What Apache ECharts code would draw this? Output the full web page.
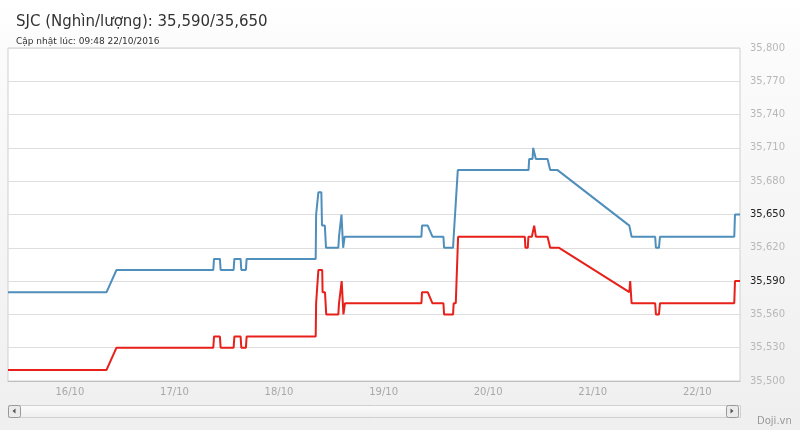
<!DOCTYPE html>
<html lang="vi">
<head>
    <meta charset="UTF-8">
    <title>SJC</title>
    <script src="https://cdn.jsdelivr.net/npm/echarts@6/dist/echarts.min.js"></script>
    <style>
        html, body { margin: 0; padding: 0; }
        #main { width: 800px; height: 430px; }
    </style>
</head>
<body>
<div id="main"></div>
<script>
    // gia ban (xanh)
    var sellTimes = ['10-15 09:48', '10-16 08:25', '10-16 10:42', '10-17 08:55', '10-17 09:05', '10-17 10:26',
        '10-17 10:36', '10-17 13:35', '10-17 13:45', '10-17 15:11', '10-17 15:21', '10-17 16:24', '10-17 16:34',
        '10-18 08:25', '10-18 08:31', '10-18 09:02', '10-18 09:43', '10-18 09:52', '10-18 10:31', '10-18 10:47',
        '10-18 13:37', '10-18 13:46', '10-18 14:20', '10-18 14:43', '10-18 15:04', '10-19 08:41', '10-19 08:49',
        '10-19 10:08', '10-19 11:13', '10-19 13:44', '10-19 13:53', '10-19 15:57', '10-19 16:05', '10-19 16:27',
        '10-19 17:02', '10-20 09:16', '10-20 09:25', '10-20 10:11', '10-20 10:20', '10-20 10:47', '10-20 10:57',
        '10-20 13:38', '10-20 14:14', '10-20 15:56', '10-21 08:24', '10-21 08:45', '10-21 08:55', '10-21 14:20',
        '10-21 14:30', '10-21 15:12', '10-21 15:26', '10-22 08:29', '10-22 08:39', '10-22 09:48'];
    var sellValues = [35580, 35580, 35600, 35600, 35610, 35610,
        35600, 35600, 35610, 35610, 35600, 35600, 35610,
        35610, 35650, 35670, 35670, 35640, 35640, 35620,
        35620, 35630, 35650, 35620, 35630, 35630, 35640,
        35640, 35630, 35630, 35620, 35620, 35630, 35630,
        35690, 35690, 35700, 35700, 35710, 35710, 35700,
        35700, 35690, 35690, 35640, 35640, 35630, 35630,
        35620, 35620, 35630, 35630, 35650, 35650];

    // gia mua (do)
    var buyTimes = ['10-15 09:48', '10-16 08:25', '10-16 10:42', '10-17 08:55', '10-17 09:05', '10-17 10:26',
        '10-17 10:36', '10-17 13:35', '10-17 13:45', '10-17 15:11', '10-17 15:21', '10-17 16:24', '10-17 16:34',
        '10-18 08:25', '10-18 08:31', '10-18 09:02', '10-18 09:55', '10-18 10:00', '10-18 10:33', '10-18 10:50',
        '10-18 13:37', '10-18 13:46', '10-18 14:23', '10-18 14:47', '10-18 15:08', '10-19 08:41', '10-19 08:49',
        '10-19 10:08', '10-19 11:13', '10-19 13:44', '10-19 13:53', '10-19 15:57', '10-19 16:05', '10-19 16:34',
        '10-19 17:06', '10-20 08:25', '10-20 08:33', '10-20 09:06', '10-20 09:14', '10-20 10:02', '10-20 10:34',
        '10-20 10:57', '10-20 13:38', '10-20 14:14', '10-20 16:17', '10-21 08:24', '10-21 08:36', '10-21 08:55',
        '10-21 14:20', '10-21 14:30', '10-21 15:12', '10-21 15:26', '10-22 08:29', '10-22 08:39', '10-22 09:48'];
    var buyValues = [35510, 35510, 35530, 35530, 35540, 35540,
        35530, 35530, 35540, 35540, 35530, 35530, 35540,
        35540, 35570, 35600, 35600, 35580, 35580, 35560,
        35560, 35570, 35590, 35560, 35570, 35570, 35580,
        35580, 35570, 35570, 35560, 35560, 35570, 35570,
        35630, 35630, 35620, 35620, 35630, 35630, 35640,
        35630, 35630, 35620, 35620, 35580, 35590, 35570,
        35570, 35560, 35560, 35570, 35570, 35590, 35590];

    var tickTimes = ['10-16 00:00', '10-17 00:00', '10-18 00:00', '10-19 00:00', '10-20 00:00', '10-21 00:00', '10-22 00:00'];
    var tickLabels = ['16/10', '17/10', '18/10', '19/10', '20/10', '21/10', '22/10'];

    var rangeStart = '10-15 09:48';
    var rangeEnd = '10-22 09:48';
    var updated = '09:48 22/10/2016';

    // '10-16 08:25' -> so phut tinh tu 15/10 00:00
    function t(s) {
        var p = s.split(/[- :]/);
        return ((+p[1] - 15) * 24 + (+p[2])) * 60 + (+p[3]);
    }
    function fmt(v) {
        return Number(v).toLocaleString('en-US');
    }
    function pairs(times, values) {
        return times.map(function (s, i) { return [t(s), values[i]]; });
    }

    var lastBuy = buyValues[buyValues.length - 1];
    var lastSell = sellValues[sellValues.length - 1];
    var tickStamps = tickTimes.map(t);
    var font = 'DejaVu Sans';

    var chart = echarts.init(document.getElementById('main'));
    chart.setOption({
        animation: false,
        backgroundColor: {
            type: 'linear', x: 0, y: 0, x2: 0, y2: 1,
            colorStops: [{offset: 0, color: '#ffffff'}, {offset: 0.12, color: '#fbfbfb'}, {offset: 1, color: '#efefef'}]
        },
        title: {
            text: 'SJC (Nghìn/lượng): ' + fmt(lastBuy) + '/' + fmt(lastSell),
            subtext: 'Cập nhật lúc: ' + updated,
            left: 11, top: 10, itemGap: 7,
            textStyle: {fontFamily: font, fontSize: 15, fontWeight: 'normal', color: '#333'},
            subtextStyle: {fontFamily: font, fontSize: 9, color: '#333'}
        },
        grid: {
            left: 8, right: 60, top: 48, bottom: 49,
            show: true, backgroundColor: '#fff', borderColor: '#cfcfcf', borderWidth: 1
        },
        xAxis: {
            type: 'value',
            min: t(rangeStart),
            max: t(rangeEnd),
            axisLine: {lineStyle: {color: '#c0c0c0', width: 1}},
            axisTick: {show: false, customValues: tickStamps},
            splitLine: {show: false},
            axisLabel: {
                customValues: tickStamps,
                margin: 6,
                fontFamily: font, fontSize: 10, color: '#a8a8a8',
                formatter: function (v) {
                    var i = tickStamps.indexOf(+v);
                    return i >= 0 ? tickLabels[i] : '';
                }
            }
        },
        yAxis: {
            type: 'value',
            position: 'right',
            min: 35500, max: 35800, interval: 30,
            axisLine: {show: false},
            axisTick: {show: false},
            splitLine: {lineStyle: {color: '#dedede', width: 1}},
            axisLabel: {
                margin: 10,
                fontFamily: font, fontSize: 10,
                formatter: function (v) { return fmt(v); },
                color: function (v) {
                    var n = Number(String(v).replace(/,/g, ''));
                    return (n === lastBuy || n === lastSell) ? '#222' : '#b8b8b8';
                }
            }
        },
        series: [
            {
                name: 'Bán', type: 'line', data: pairs(sellTimes, sellValues),
                showSymbol: false, lineStyle: {color: '#4f8fbb', width: 2}, itemStyle: {color: '#4f8fbb'}
            },
            {
                name: 'Mua', type: 'line', data: pairs(buyTimes, buyValues),
                showSymbol: false, lineStyle: {color: '#e8201a', width: 2}, itemStyle: {color: '#e8201a'}
            }
        ],
        graphic: [
            // thanh cuon
            {
                type: 'rect', left: 8, top: 405, shape: {width: 732, height: 12},
                style: {
                    fill: {type: 'linear', x: 0, y: 0, x2: 0, y2: 1,
                        colorStops: [{offset: 0, color: '#fbfbfb'}, {offset: 1, color: '#eeeeee'}]},
                    stroke: '#d0d0d0', lineWidth: 1
                }
            },
            {
                type: 'rect', left: 8, top: 405, shape: {width: 12, height: 12, r: 2},
                style: {fill: '#ebebeb', stroke: '#999', lineWidth: 1}
            },
            {
                type: 'polygon', shape: {points: [[15.5, 408.5], [15.5, 413.5], [12.5, 411]]},
                style: {fill: '#555'}
            },
            {
                type: 'rect', left: 726, top: 405, shape: {width: 12, height: 12, r: 2},
                style: {fill: '#ebebeb', stroke: '#999', lineWidth: 1}
            },
            {
                type: 'polygon', shape: {points: [[730.5, 408.5], [730.5, 413.5], [733.5, 411]]},
                style: {fill: '#555'}
            },
            {
                type: 'text', left: 757, top: 416,
                style: {text: 'Doji.vn', fill: '#999', font: '10px "DejaVu Sans"'}
            }
        ]
    });
</script>
</body>
</html>
